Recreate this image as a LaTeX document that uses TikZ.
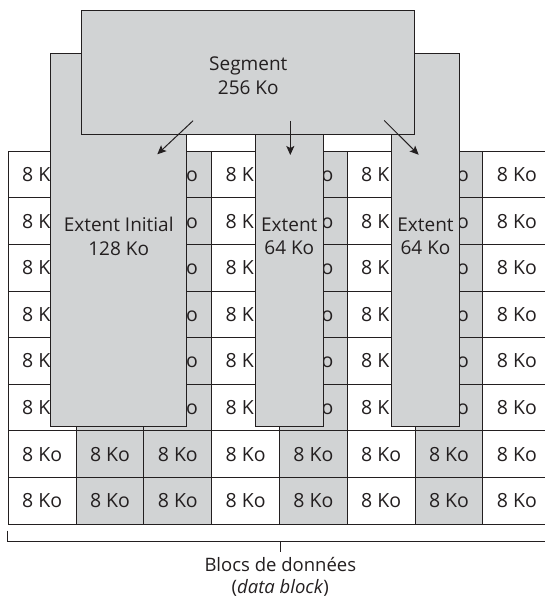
\documentclass[tikz,border=0pt]{standalone}
\usepackage{fontspec}
\setmainfont{Open Sans}
\usetikzlibrary{arrows.meta,calc}
\definecolor{cellgray}{RGB}{209,211,212}
\definecolor{ink}{RGB}{35,31,32}
\begin{document}
\begin{tikzpicture}[x=1pt,y=-1pt,
  txt/.style={font=\fontsize{19}{23.5}\selectfont, text=ink, align=center, inner sep=0pt},
  cellbox/.style={draw=ink, line width=1pt, minimum width=67.8pt, minimum height=46.6pt,
    inner sep=0pt, anchor=north west, font=\fontsize{19.5}{20}\selectfont, text=ink},
  graybox/.style={draw=ink, line width=1pt, fill=cellgray, inner sep=0pt},
  conn/.style={draw=ink, line width=1pt, -{Stealth[length=9pt,width=8pt,inset=2pt]}},
  bracket/.style={draw=ink, line width=1pt}]
\useasboundingbox (0,0) rectangle (544,599);
\fill[white] (0,0) rectangle (544,599);
% grid of data blocks; in the upper six rows the extents cover part of each block,
% so only the visible part of its text is set
\foreach \c/\f/\t in {1/white/{8 K\phantom{o}},2/cellgray/{},3/cellgray/{\phantom{8 K}o},
                      4/white/{8 K\phantom{o}},5/cellgray/{\phantom{8 K}o},6/white/{8 K\phantom{o}},
                      7/cellgray/{\phantom{8 K}o},8/white/{8 Ko}}{
  \foreach \r in {1,...,6}{
    \node[cellbox, fill=\f] (cell-\c-\r) at ({7.8+(\c-1)*67.8},{150.7+(\r-1)*46.6}) {\t};
  }
  \foreach \r in {7,8}{
    \node[cellbox, fill=\f] (cell-\c-\r) at ({7.8+(\c-1)*67.8},{150.7+(\r-1)*46.6}) {8 Ko};
  }
}
% extents
\node[graybox, minimum width=136pt, minimum height=372.7pt] (ext1) at (118.7,239.65) {};
\node[graybox, minimum width=68pt, minimum height=372.7pt] (ext2) at (289.3,239.65) {};
\node[graybox, minimum width=67.6pt, minimum height=372.7pt] (ext3) at (425.5,239.65) {};
\node[txt] (ext1txt) at (118.7,236.2) {Extent Initial\\128 Ko};
\node[txt] (ext2txt) at (289.3,236.2) {Extent\\64 Ko};
\node[txt] (ext3txt) at (425.5,236.2) {Extent\\64 Ko};
% segment
\node[graybox, minimum width=333.3pt, minimum height=124.3pt] (segment) at (248.3,72.2) {};
\node[txt] (segtxt) at (248.3,75.8) {Segment\\256 Ko};
% arrows
\coordinate (a1s) at (193.1,120.7);
\coordinate (a1e) at (157.3,154.3);
\coordinate (a2s) at (290.3,121);
\coordinate (a2e) at (290.3,155);
\coordinate (a3s) at (384.2,120.5);
\coordinate (a3e) at (418.7,154.8);
\draw[conn] (a1s) -- (a1e);
\draw[conn] (a2s) -- (a2e);
\draw[conn] (a3s) -- (a3e);
% bracket
\coordinate (bl) at (7.3,530.7);
\coordinate (blc) at (7.3,541.7);
\coordinate (brc) at (550.2,541.7);
\coordinate (br) at (550.2,530.7);
\coordinate (bm) at (280.3,541.7);
\coordinate (bmt) at (280.3,552);
\draw[bracket] (bl) -- (blc) -- (brc) -- (br);
\draw[bracket] (bm) -- (bmt);
\node[txt, font=\fontsize{18.5}{21.6}\selectfont] (lbl) at (280.3,576.8) {Blocs de données\\(\textit{data block})};
\end{tikzpicture}
\end{document}
